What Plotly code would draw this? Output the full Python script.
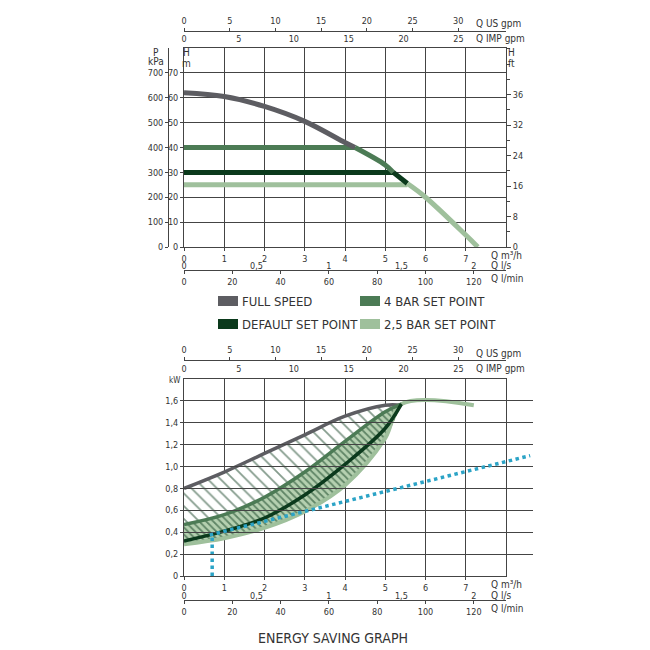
import plotly.graph_objects as go

# --- data ---
# pump curve (Q m3/h, H m)
curve_q = [0, 1, 2, 3, 4, 4.25, 5, 5.2, 5.55, 6, 7, 7.3]
curve_h = [62, 60.5, 56.5, 50.5, 42, 40, 33, 30, 25.5, 20, 4.8, 0]
set_4bar = 40
set_default = 30
set_25bar = 25

# power curves (Q m3/h, kW)
pw_q = [0, 1, 2, 3, 4, 5, 5.4]
pw_full = [0.8, 0.95, 1.12, 1.29, 1.46, 1.56, 1.56]
pw_4bar = [0.47, 0.56, 0.72, 0.95, 1.23, 1.50, 1.57]
pw_default = [0.32, 0.41, 0.53, 0.74, 1.02, 1.35, 1.57]
pw_25bar = [0.29, 0.345, 0.44, 0.59, 0.83, 1.26, 1.57]
flat_q = [5.4, 7.2]
flat_kw = [1.56, 1.56]
saving_q = [0.64, 8.6]
saving_kw = [0.375, 1.1]
marker_q = [0.7, 0.7]
marker_kw = [0, 0.38]

kw_ticks = [0, 0.2, 0.4, 0.6, 0.8, 1.0, 1.2, 1.4, 1.6]
kw_labels = ['0', '0,2', '0,4', '0,6', '0,8', '1,0', '1,2', '1,4', '1,6']
ls_ticks = [0, 0.5, 1, 1.5, 2]
ls_labels = ['0', '0,5', '1', '1,5', '2']

c_full = '#5d5d62'
c_4bar = '#4c7b55'
c_def = '#0b3a1c'
c_25 = '#9fc09c'
c_blue = '#2ba3c6'
FONT = 'DejaVu Sans Condensed, Liberation Sans Narrow, sans-serif'
TXT = '#333333'

W = 650


def py(px):
    return 1 - px / W


XD = [176 / W, 498 / W]
TOP = [py(239), py(40)]
BOT = [py(568), py(371)]

fig = go.Figure()

# ---- top chart ----
i4 = curve_q.index(4.25)
i3 = curve_q.index(5.2)
i2 = curve_q.index(5.55)
for lvl, col in [(set_4bar, c_4bar), (set_default, c_def), (set_25bar, c_25)]:
    fig.add_trace(go.Scatter(x=[0, curve_q[curve_h.index(lvl) if lvl in curve_h else i2]],
                             y=[lvl, lvl], mode='lines', line=dict(color=col, width=5)))
fig.add_trace(go.Scatter(x=curve_q[:i4 + 1], y=curve_h[:i4 + 1], mode='lines',
                         line=dict(color=c_full, width=5, shape='spline')))
fig.add_trace(go.Scatter(x=curve_q[i4:i3 + 1], y=curve_h[i4:i3 + 1],
                         mode='lines', line=dict(color=c_4bar, width=5, shape='spline')))
fig.add_trace(go.Scatter(x=curve_q[i3:i2 + 1], y=curve_h[i3:i2 + 1],
                         mode='lines', line=dict(color=c_def, width=5)))
fig.add_trace(go.Scatter(x=curve_q[i2:], y=curve_h[i2:],
                         mode='lines', line=dict(color=c_25, width=5, shape='spline')))

# ---- bottom chart ----
fig.add_trace(go.Scatter(x=pw_q, y=pw_4bar, xaxis='x6', yaxis='y4', mode='lines',
                         line=dict(width=0, shape='spline')))
fig.add_trace(go.Scatter(x=pw_q, y=pw_full, xaxis='x6', yaxis='y4', mode='lines',
                         line=dict(width=0, shape='spline'), fill='tonexty', fillcolor='rgba(0,0,0,0)',
                         fillpattern=dict(shape='\\', fgcolor=c_def, bgcolor='white', size=9, solidity=0.2)))
fig.add_trace(go.Scatter(x=pw_q, y=pw_25bar, xaxis='x6', yaxis='y4', mode='lines',
                         line=dict(width=0, shape='spline')))
fig.add_trace(go.Scatter(x=pw_q, y=pw_4bar, xaxis='x6', yaxis='y4', mode='lines',
                         line=dict(width=0, shape='spline'), fill='tonexty', fillcolor='rgba(0,0,0,0)',
                         fillpattern=dict(shape='\\', fgcolor=c_def, bgcolor='#b5d0b0', size=5, solidity=0.35)))
fig.add_trace(go.Scatter(x=pw_q + flat_q[1:], y=pw_25bar + flat_kw[1:], xaxis='x6', yaxis='y4',
                         mode='lines', line=dict(color=c_25, width=4, shape='spline')))
fig.add_trace(go.Scatter(x=pw_q, y=pw_full, xaxis='x6', yaxis='y4', mode='lines',
                         line=dict(color=c_full, width=3.5, shape='spline')))
fig.add_trace(go.Scatter(x=pw_q, y=pw_4bar, xaxis='x6', yaxis='y4', mode='lines',
                         line=dict(color=c_4bar, width=3.5, shape='spline')))
fig.add_trace(go.Scatter(x=pw_q, y=pw_default, xaxis='x6', yaxis='y4', mode='lines',
                         line=dict(color=c_def, width=3.5, shape='spline')))
fig.add_trace(go.Scatter(x=saving_q, y=saving_kw, xaxis='x11', yaxis='y4', mode='lines',
                         line=dict(color=c_blue, width=3.5, dash='dot')))
fig.add_trace(go.Scatter(x=marker_q, y=marker_kw, xaxis='x6', yaxis='y4', mode='lines',
                         line=dict(color=c_blue, width=3.5, dash='dot')))

# dummy traces so every axis gets drawn
for xa, ya in [('x2', 'y'), ('x3', 'y'), ('x4', 'y'), ('x5', 'y'), ('x', 'y2'), ('x', 'y3'),
               ('x7', 'y4'), ('x8', 'y4'), ('x9', 'y4'), ('x10', 'y4')]:
    fig.add_trace(go.Scatter(x=[None], y=[None], xaxis=xa, yaxis=ya))

tf = dict(family=FONT, size=9, color=TXT)
grid = dict(showgrid=True, gridcolor='#444', gridwidth=1, showline=True, linecolor='#444',
            mirror=True, zeroline=False, tickfont=tf, ticks='outside', ticklen=3, tickcolor='#444',
            automargin=False)

m3h = dict(range=[0, 8], tickvals=list(range(8)), domain=XD, **grid)
fig.update_layout(xaxis=dict(anchor='y', **m3h), xaxis6=dict(anchor='y4', **m3h))
fig.update_layout(
    yaxis=dict(domain=TOP, range=[0, 80], tickvals=list(range(0, 80, 10)), anchor='x', **grid),
    yaxis4=dict(domain=BOT, range=[0, 1.8], tickvals=kw_ticks, ticktext=kw_labels,
                anchor='x6', **grid),
    yaxis2=dict(overlaying='y', anchor='free', position=160 / W, range=[0, 800],
                tickvals=list(range(0, 800, 100)), showline=True, linecolor='#444',
                ticks='outside', ticklen=3, tickfont=tf, showgrid=False, zeroline=False,
                automargin=False),
    yaxis3=dict(overlaying='y', side='right', anchor='x', range=[0, 52.2],
                tickvals=[0, 8, 16, 24, 32, 40], ticktext=['0', '8', '16', '24', '32', '36'],
                ticks='outside', ticklen=4, tickfont=tf, showgrid=False, zeroline=False,
                minor=dict(dtick=4, ticks='outside', ticklen=3), automargin=False),
    xaxis11=dict(domain=[176 / W, 525 / W], range=[0, (525 - 176) / 40.25], anchor='y4',
                 visible=False),
)


def extra_axes(over, top_px, imp_px, ls_px, lmin_px):
    base = dict(overlaying=over, anchor='free', tickfont=tf, showgrid=False, zeroline=False,
                automargin=False)
    return [
        dict(range=[0, 8 / 3.6], tickvals=ls_ticks, ticktext=ls_labels,
             position=py(ls_px), showline=False, ticks='', **base),
        dict(range=[0, 8000 / 60], tickvals=list(range(0, 140, 20)), position=py(lmin_px),
             showline=True, linecolor='#444', ticks='outside', ticklen=3, **base),
        dict(range=[0, 8 * 4.403], tickvals=list(range(0, 35, 5)), side='top',
             position=py(top_px), showline=True, linecolor='#444', ticks='outside', ticklen=3, **base),
        dict(range=[0, 8 * 3.666], tickvals=list(range(0, 30, 5)), side='top',
             position=py(imp_px), showline=False, ticks='', **base),
    ]


a = extra_axes('x', 23, 36, 251, 262)
b = extra_axes('x6', 352, 366, 581, 592)
fig.update_layout(xaxis2=a[0], xaxis3=a[1], xaxis4=a[2], xaxis5=a[3],
                  xaxis7=b[0], xaxis8=b[1], xaxis9=b[2], xaxis10=b[3])

ann = []


def t(x, y, s, size=10, anchor='left'):
    ann.append(dict(x=x / W, y=py(y), xref='paper', yref='paper', text=s, showarrow=False,
                    xanchor=anchor, yanchor='middle', font=dict(family=FONT, size=size, color=TXT)))


for y0 in (0, 330):
    t(466, 16 + y0, 'Q US gpm')
    t(466, 30 + y0, 'Q IMP gpm')
    t(481, 247 + y0 - (1 if y0 else 0), 'Q m³/h')
    t(481, 257 + y0, 'Q l/s')
    t(481, 270 + y0, 'Q l/min')
t(148, 44, 'P', anchor='center')
t(148, 53, 'kPa', anchor='center')
t(178, 45, 'H', anchor='center')
t(178, 56, 'm', anchor='center')
t(504, 44, 'H', anchor='center')
t(504, 56, 'ft', anchor='center')
t(166, 372, 'kW', size=8, anchor='center')
t(325, 630, 'ENERGY SAVING GRAPH', size=14, anchor='center')

shapes = []
legend = [(210, 293, c_full, 'FULL SPEED'), (352, 293, c_4bar, '4 BAR SET POINT'),
          (210, 316, c_def, 'DEFAULT SET POINT'), (352, 316, c_25, '2,5 BAR SET POINT')]
for lx, ly, col, name in legend:
    shapes.append(dict(type='rect', xref='paper', yref='paper', x0=lx / W, x1=(lx + 20) / W,
                       y0=py(ly + 5), y1=py(ly - 5), fillcolor=col, line=dict(width=0)))
    t(lx + 22, ly, name, size=13)

fig.update_layout(width=650, height=650, margin=dict(l=0, r=0, t=0, b=0),
                  plot_bgcolor='rgba(0,0,0,0)', paper_bgcolor='white', showlegend=False,
                  separators=',.', annotations=ann, shapes=shapes)
fig.write_html('out.html')
